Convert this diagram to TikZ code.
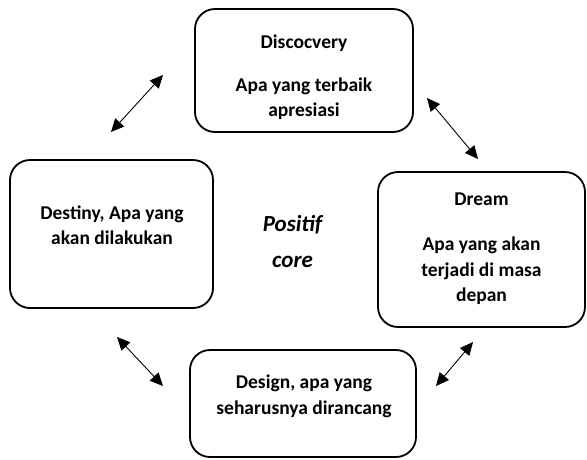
\documentclass[tikz,border=0pt]{standalone}
\usepackage{fontspec}
\setmainfont{Carlito}
\usetikzlibrary{arrows.meta}

\begin{document}
\begin{tikzpicture}[x = 1pt, y = -1pt, >= {Triangle[length=13pt,width=12pt]},
    kotak/.style = {draw, line width=1.8pt, rounded corners=20pt, inner sep=0pt},
    teks/.style = {align=center, font=\fontsize{19.5}{25.5}\selectfont\bfseries},
    inti/.style = {align=center, font=\fontsize{23}{36}\selectfont\bfseries\itshape},
    panah/.style = {<->, line width=0.9pt}]
          \useasboundingbox (0, 0) rectangle (587, 459);
          \node[kotak, minimum width=218pt, minimum height=123pt] (discovery) at (304, 70.5) {};
          \node[kotak, minimum width=207pt, minimum height=155pt] (dream) at (481.5, 249.5) {};
          \node[kotak, minimum width=226pt, minimum height=107pt] (design) at (303, 403.5) {};
          \node[kotak, minimum width=203pt, minimum height=148pt] (destiny) at (111.5, 234) {};
          \node[teks] (discoverytxt) at (304, 77.5) {Discocvery\\[17pt]Apa yang terbaik\\apresiasi};
          \node[teks] (dreamtxt) at (481.5, 249) {Dream\\[19.5pt]Apa yang akan\\terjadi di masa\\depan};
          \node[teks] (designtxt) at (304, 396.5) {Design, apa yang\\seharusnya dirancang};
          \node[teks] (destinytxt) at (112, 225) {Destiny, Apa yang\\akan dilakukan};
          \node[inti] (core) at (292.5, 242) {Positif\\core};
          \coordinate (pa1) at (111, 132);
          \coordinate (pb1) at (163, 75);
          \coordinate (pa2) at (427, 98);
          \coordinate (pb2) at (478, 159);
          \coordinate (pa3) at (117, 337);
          \coordinate (pb3) at (163, 386);
          \coordinate (pa4) at (473, 342);
          \coordinate (pb4) at (436, 386);
          \draw[panah] (pa1) -- (pb1);
          \draw[panah] (pa2) -- (pb2);
          \draw[panah] (pa3) -- (pb3);
          \draw[panah] (pa4) -- (pb4);
        \end{tikzpicture}
\end{document}
